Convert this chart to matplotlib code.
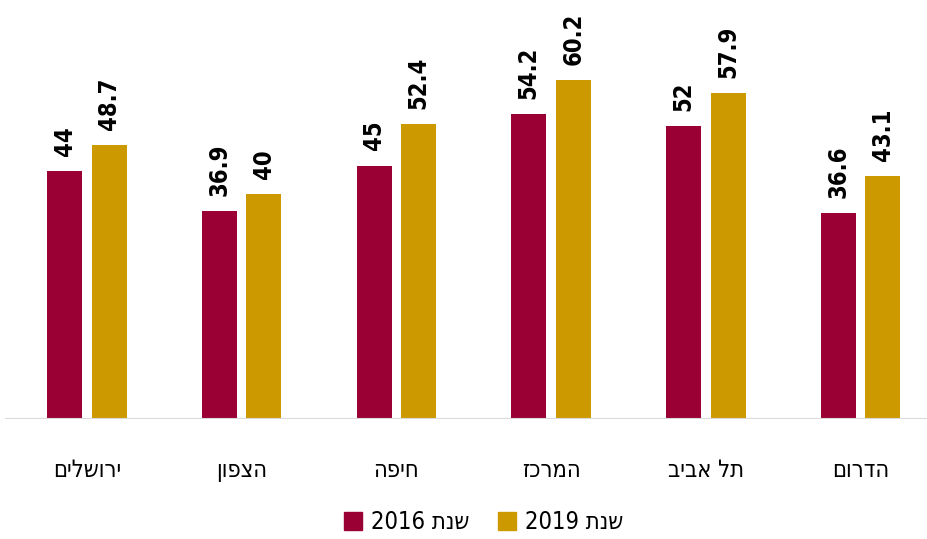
import matplotlib.pyplot as plt
from matplotlib.lines import Line2D
import numpy as np

# נתונים
regions = ['ירושלים', 'הצפון', 'חיפה', 'המרכז', 'תל אביב', 'הדרום']
vals_2016 = [44, 36.9, 45, 54.2, 52, 36.6]
vals_2019 = [48.7, 40, 52.4, 60.2, 57.9, 43.1]
series_names = ['שנת 2016', 'שנת 2019']

red = '#9b0034'
gold = '#cc9900'


def rtl(s):
    # matplotlib draws left to right, so flip the Hebrew words
    parts = s.split(' ')
    out = []
    for p in parts:
        out.append(p if p.isdigit() else p[::-1])
    return ' '.join(out[::-1])


plt.rcParams['font.family'] = ['DejaVu Sans', 'Liberation Sans']

fig = plt.figure(figsize=(9.27, 5.39), dpi=100)
ax = fig.add_axes([5 / 927, 1 - 419 / 539, 922 / 927, 419 / 539])

x = np.arange(len(regions))
w = 0.226
off = 0.144
b1 = ax.bar(x - off, vals_2016, w, color=red)
b2 = ax.bar(x + off, vals_2019, w, color=gold)

for bars, vals in ((b1, vals_2016), (b2, vals_2019)):
    for b, v in zip(bars, vals):
        ax.text(b.get_x() + b.get_width() / 2, v + 2.7, f'{v:g}',
                rotation=90, ha='center', va='bottom', fontsize=17,
                fontweight='bold', fontstretch='condensed')

ax.set_xlim(-0.53, 5.43)
ax.set_ylim(0, 74.4)
ax.axhline(0, color='#d9d9d9', lw=1.5)
for s in ax.spines.values():
    s.set_visible(False)
ax.set_yticks([])
ax.set_xticks(x)
ax.set_xticklabels([rtl(r) for r in regions], fontsize=17,
                   fontstretch='condensed')
ax.tick_params(axis='x', length=0, pad=28)

handles = [Line2D([], [], marker='s', color=c, ls='', markersize=13)
           for c in (red, gold)]
fig.legend(handles, [rtl(s) for s in series_names], loc='center',
           bbox_to_anchor=(481 / 927, 1 - 522 / 539), ncol=2, frameon=False,
           prop={'size': 17, 'stretch': 'condensed'}, handletextpad=0.15,
           columnspacing=1.0, handlelength=1.2)

fig.savefig('out.png', dpi=100)
